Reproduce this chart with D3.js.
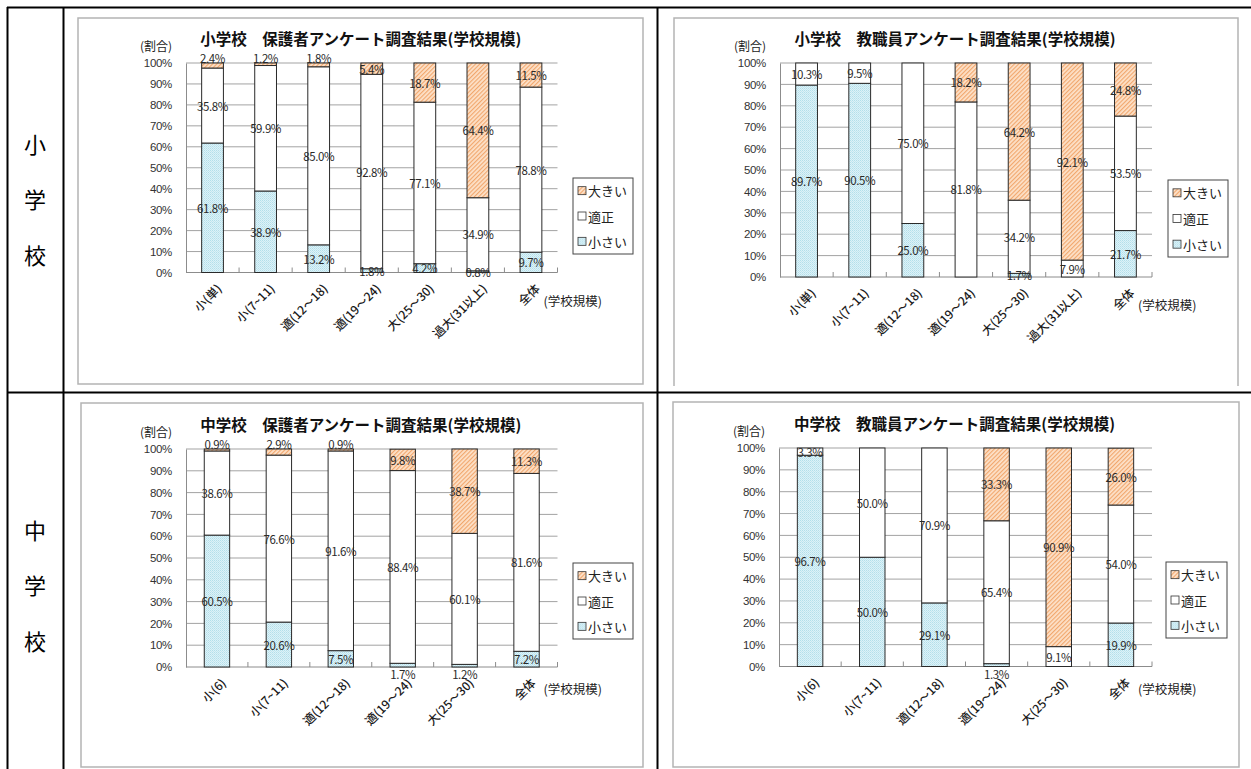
<!DOCTYPE html>
<html><head><meta charset="utf-8">
<script src="https://cdn.jsdelivr.net/npm/d3@7"></script>
<style>
html,body{margin:0;padding:0;background:#fff;}
svg{display:block;font-family:"Noto Sans CJK JP","Noto Sans",sans-serif;}
</style></head>
<body>
<svg id="c" width="1251" height="769"></svg>
<script>
// ---------- DATA ----------
const seriesNames = ["大きい", "適正", "小さい"];
const yTickValues = [0, 10, 20, 30, 40, 50, 60, 70, 80, 90, 100];
const rowHeaders = ["小学校", "中学校"];

const catsElem = ["小(単)", "小(7~11)", "適(12～18)", "適(19～24)", "大(25～30)", "過大(31以上)", "全体"];
const catsJunior = ["小(6)", "小(7~11)", "適(12～18)", "適(19～24)", "大(25～30)", "全体"];

// 小学校 保護者
const elemParentSmall = [61.8, 38.9, 13.2, 1.8, 4.2, 0.8, 9.7];
const elemParentFit   = [35.8, 59.9, 85.0, 92.8, 77.1, 34.9, 78.8];
const elemParentLarge = [2.4, 1.2, 1.8, 5.4, 18.7, 64.4, 11.5];
// 小学校 教職員
const elemStaffSmall = [89.7, 90.5, 25.0, 0, 1.7, 0, 21.7];
const elemStaffFit   = [10.3, 9.5, 75.0, 81.8, 34.2, 7.9, 53.5];
const elemStaffLarge = [0, 0, 0, 18.2, 64.2, 92.1, 24.8];
// 中学校 保護者
const junParentSmall = [60.5, 20.6, 7.5, 1.7, 1.2, 7.2];
const junParentFit   = [38.6, 76.6, 91.6, 88.4, 60.1, 81.6];
const junParentLarge = [0.9, 2.9, 0.9, 9.8, 38.7, 11.3];
// 中学校 教職員
const junStaffSmall = [96.7, 50.0, 29.1, 1.3, 0, 19.9];
const junStaffFit   = [3.3, 50.0, 70.9, 65.4, 9.1, 54.0];
const junStaffLarge = [0, 0, 0, 33.3, 90.9, 26.0];

const titles = [
  "小学校\u3000保護者アンケート調査結果(学校規模)",
  "小学校\u3000教職員アンケート調査結果(学校規模)",
  "中学校\u3000保護者アンケート調査結果(学校規模)",
  "中学校\u3000教職員アンケート調査結果(学校規模)"
];

// ---------- LAYOUT ----------
const charts = [
  {title: titles[0], cats: catsElem, small: elemParentSmall, fit: elemParentFit, large: elemParentLarge,
   frame: [78, 18, 643, 384], frameBottom: true, plot: [186, 63, 557.5, 272.5], legend: [573, 178, 633, 254],
   sizeLabelY: 300, smallBelow: false},
  {title: titles[1], cats: catsElem, small: elemStaffSmall, fit: elemStaffFit, large: elemStaffLarge,
   frame: [674, 18, 1238, 386], frameBottom: false, plot: [780, 63, 1152, 277], legend: [1168, 180, 1228, 257],
   sizeLabelY: 304, smallBelow: false},
  {title: titles[2], cats: catsJunior, small: junParentSmall, fit: junParentFit, large: junParentLarge,
   frame: [81, 403, 643, 767], frameBottom: true, plot: [186, 449, 557.5, 667], legend: [573, 563, 633, 639],
   sizeLabelY: 688, smallBelow: true},
  {title: titles[3], cats: catsJunior, small: junStaffSmall, fit: junStaffFit, large: junStaffLarge,
   frame: [673, 402, 1239, 767], frameBottom: true, plot: [779, 448, 1152, 666.5], legend: [1166, 562, 1227, 638],
   sizeLabelY: 688, smallBelow: true}
];

const svg = d3.select("#c");

// ---------- PATTERNS ----------
const defs = svg.append("defs");
const pSmall = defs.append("pattern").attr("id", "pSmall").attr("patternUnits", "userSpaceOnUse")
  .attr("width", 2).attr("height", 2);
pSmall.append("rect").attr("width", 2).attr("height", 2).attr("fill", "#dcf2f8");
pSmall.append("rect").attr("width", 1).attr("height", 1).attr("fill", "#b4dfea");
pSmall.append("rect").attr("x", 1).attr("y", 1).attr("width", 1).attr("height", 1).attr("fill", "#c4e6ef");

const pLarge = defs.append("pattern").attr("id", "pLarge").attr("patternUnits", "userSpaceOnUse")
  .attr("width", 3).attr("height", 3).attr("patternTransform", "rotate(45)");
pLarge.append("rect").attr("width", 3).attr("height", 3).attr("fill", "#fde2ca");
pLarge.append("line").attr("x1", 0.6).attr("y1", 0).attr("x2", 0.6).attr("y2", 3)
  .attr("stroke", "#f1a468").attr("stroke-width", 1.1);

const fills = {"大きい": "url(#pLarge)", "適正": "#ffffff", "小さい": "url(#pSmall)"};

// ---------- TABLE ----------
const tbl = svg.append("g").attr("stroke", "#000").attr("stroke-width", 2);
tbl.append("line").attr("x1", 7).attr("y1", 7.5).attr("x2", 1251).attr("y2", 7.5);
tbl.append("line").attr("x1", 7.5).attr("y1", 7).attr("x2", 7.5).attr("y2", 769);
tbl.append("line").attr("x1", 63.5).attr("y1", 7).attr("x2", 63.5).attr("y2", 769);
tbl.append("line").attr("x1", 657.5).attr("y1", 7).attr("x2", 657.5).attr("y2", 769);
tbl.append("line").attr("x1", 7).attr("y1", 392.5).attr("x2", 1251).attr("y2", 392.5);

const rowCenters = [198, 584];
rowHeaders.forEach((h, i) => {
  const chars = Array.from(h);
  chars.forEach((ch, j) => {
    svg.append("text").attr("x", 35).attr("y", rowCenters[i] + (j - 1) * 55.5)
      .attr("text-anchor", "middle").attr("dominant-baseline", "central")
      .attr("font-size", 22).attr("font-weight", 400).attr("fill", "#000").text(ch);
  });
});

// ---------- CHARTS ----------
charts.forEach(cfg => {
  const g = svg.append("g");
  const [fx0, fy0, fx1, fy1] = cfg.frame;
  g.append("path")
    .attr("d", cfg.frameBottom
      ? `M${fx0},${fy0}H${fx1}V${fy1}H${fx0}Z`
      : `M${fx0},${fy1}V${fy0}H${fx1}V${fy1}`)
    .attr("fill", "none").attr("stroke", "#b4b4b4").attr("stroke-width", 1.5);

  const [px0, py0, px1, py1] = cfg.plot;
  const x = d3.scaleBand().domain(cfg.cats).range([px0, px1]).paddingInner(0.59).paddingOuter(0.295);
  const y = d3.scaleLinear().domain([0, 100]).range([py1, py0]);

  // gridlines
  g.append("g").selectAll("line").data(yTickValues.filter(v => v > 0)).join("line")
    .attr("x1", px0).attr("x2", px1).attr("y1", d => y(d)).attr("y2", d => y(d))
    .attr("stroke", "#a3a3a3").attr("stroke-width", 1);

  // y axis
  const yAxis = d3.axisLeft(y).tickValues(yTickValues).tickFormat(d => d + "%").tickSize(0).tickPadding(14);
  const ya = g.append("g").attr("transform", `translate(${px0},0)`).call(yAxis);
  ya.select(".domain").attr("stroke", "#8c8c8c");
  ya.selectAll("text").attr("font-size", 11.5).attr("fill", "#333").attr("font-family", "inherit")
    .attr("letter-spacing", -0.3);

  // x axis (line + inner ticks at band boundaries)
  g.append("line").attr("x1", px0).attr("x2", px1).attr("y1", py1).attr("y2", py1)
    .attr("stroke", "#8c8c8c");
  const step = x.step();
  const bounds = d3.range(1, cfg.cats.length + 1).map(i => px0 + i * step);
  g.append("g").selectAll("line").data(bounds).join("line")
    .attr("x1", d => d).attr("x2", d => d).attr("y1", py1).attr("y2", py1 - 5)
    .attr("stroke", "#8c8c8c");

  // stacked data
  const rows = cfg.cats.map((c, i) => ({cat: c, "小さい": cfg.small[i], "適正": cfg.fit[i], "大きい": cfg.large[i]}));
  const stack = d3.stack().keys(["小さい", "適正", "大きい"])(rows);

  stack.forEach(layer => {
    g.append("g").selectAll("rect").data(layer.filter(d => d[1] - d[0] > 0)).join("rect")
      .attr("x", d => x(d.data.cat)).attr("width", x.bandwidth())
      .attr("y", d => y(Math.min(d[1], 100))).attr("height", d => y(d[0]) - y(Math.min(d[1], 100)))
      .attr("fill", fills[layer.key]).attr("stroke", "#2a2a2a").attr("stroke-width", 1);
  });

  // labels
  stack.forEach(layer => {
    g.append("g").selectAll("text").data(layer.filter(d => d[1] - d[0] > 0)).join("text")
      .attr("x", d => x(d.data.cat) + x.bandwidth() / 2)
      .attr("y", d => {
        const v = d[1] - d[0];
        const top = Math.min(d[1], 100);
        if (layer.key === "大きい" && v < 4) return y(100) - 5;
        if (layer.key === "小さい" && v < 2.5 && cfg.smallBelow) return y(0) + 7;
        return (y(d[0]) + y(top)) / 2;
      })
      .attr("text-anchor", "middle").attr("dominant-baseline", "central")
      .attr("font-size", 11.5).attr("fill", "#2a2a2a").attr("letter-spacing", -0.4)
      .text(d => (d[1] - d[0]).toFixed(1) + "%");
  });

  // x labels rotated
  g.append("g").selectAll("text").data(cfg.cats).join("text")
    .attr("transform", d => `translate(${x(d) + x.bandwidth() / 2 + 6},${py1 + 13}) rotate(-45)`)
    .attr("text-anchor", "end").attr("dominant-baseline", "central")
    .attr("font-size", 12).attr("font-weight", 500).attr("fill", "#1a1a1a").text(d => d);

  // (学校規模)
  g.append("text").attr("x", px1 - 14).attr("y", cfg.sizeLabelY).attr("dominant-baseline", "central")
    .attr("font-size", 12.5).attr("fill", "#222").text("(学校規模)");

  // (割合)
  g.append("text").attr("x", px0 - 30).attr("y", py0 - 18).attr("text-anchor", "middle")
    .attr("dominant-baseline", "central").attr("font-size", 12).attr("fill", "#222").text("(割合)");

  // title
  g.append("text").attr("x", (px0 + px1) / 2 - 11).attr("y", py0 - 25).attr("text-anchor", "middle")
    .attr("dominant-baseline", "central").attr("font-size", 15.5).attr("font-weight", 700)
    .attr("fill", "#111").text(cfg.title);

  // legend
  const [lx0, ly0, lx1, ly1] = cfg.legend;
  g.append("rect").attr("x", lx0).attr("y", ly0).attr("width", lx1 - lx0).attr("height", ly1 - ly0)
    .attr("fill", "#fff").attr("stroke", "#444").attr("stroke-width", 1);
  const ls = (ly1 - ly0) / 3;
  const li = g.append("g").selectAll("g").data(seriesNames).join("g")
    .attr("transform", (d, i) => `translate(${lx0 + 5},${ly0 + ls * (i + 0.5)})`);
  li.append("rect").attr("x", 0).attr("y", -4).attr("width", 8).attr("height", 8)
    .attr("fill", d => fills[d]).attr("stroke", "#333").attr("stroke-width", 0.8);
  li.append("text").attr("x", 10).attr("y", 0).attr("dominant-baseline", "central")
    .attr("font-size", 13).attr("fill", "#222").text(d => d);
});
</script>
</body></html>
